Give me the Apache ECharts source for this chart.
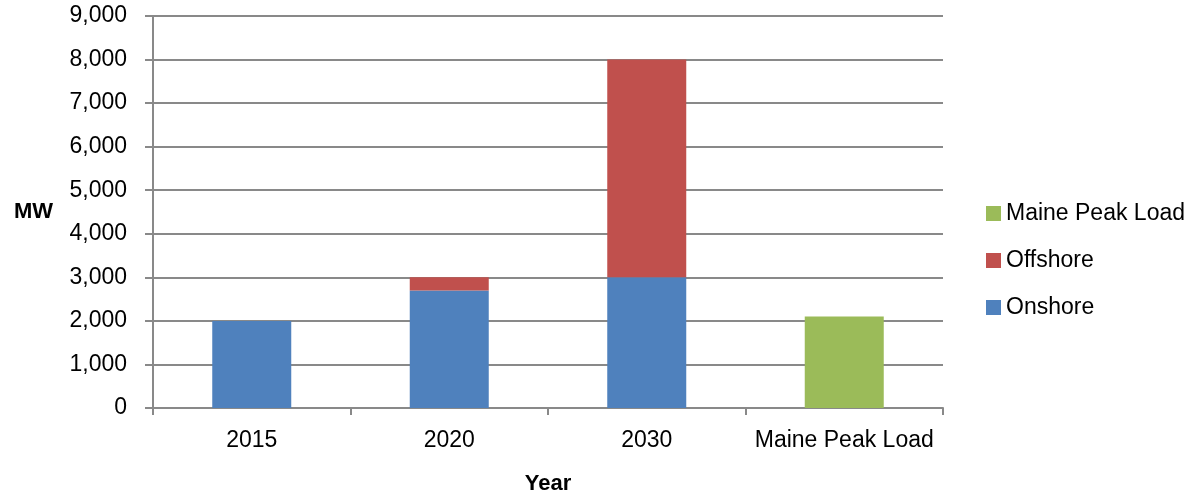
<!DOCTYPE html>
<html>
<head>
<meta charset="utf-8">
<script src="https://cdn.jsdelivr.net/npm/echarts@6/dist/echarts.min.js"></script>
<style>
  html, body { margin: 0; padding: 0; background: #fff; }
  #main { width: 1198px; height: 497px; }
</style>
</head>
<body>
<div id="main"></div>
<script>
// data
var years = ['2015', '2020', '2030', 'Maine Peak Load'];
var onshore = [2000, 2700, 3000, '-'];
var offshore = ['-', 300, 5000, '-'];
var peakLoad = ['-', '-', '-', 2100];
var yTicks = { min: 0, max: 9000, interval: 1000 };

var gray = '#898989';
var font = 'Liberation Sans';

var myChart = echarts.init(document.getElementById('main'));
myChart.setOption({
    animation: false,
    grid: { left: 153, right: 255, top: 16, bottom: 89, containLabel: false, outerBoundsMode: 'none' },
    legend: {
        orient: 'vertical',
        left: 986,
        top: 202,
        padding: 0,
        itemWidth: 15,
        itemHeight: 15,
        itemGap: 24,
        icon: 'rect',
        textStyle: { fontFamily: font, fontSize: 23, color: '#000' },
        data: ['Maine Peak Load', 'Offshore', 'Onshore']
    },
    xAxis: {
        type: 'category',
        data: years,
        name: 'Year',
        nameLocation: 'middle',
        nameGap: 65,
        nameTextStyle: { fontFamily: font, fontSize: 22, fontWeight: 'bold', color: '#000' },
        axisLine: { lineStyle: { color: gray, width: 2 } },
        axisTick: { show: true, interval: 0, length: 7, lineStyle: { color: gray, width: 2 } },
        axisLabel: { interval: 0, fontFamily: font, fontSize: 23, color: '#000', margin: 21 }
    },
    yAxis: {
        type: 'value',
        min: yTicks.min,
        max: yTicks.max,
        interval: yTicks.interval,
        name: 'MW',
        nameLocation: 'middle',
        nameRotate: 0,
        nameGap: 100,
        nameTextStyle: { fontFamily: font, fontSize: 22, fontWeight: 'bold', color: '#000', align: 'right' },
        axisLine: { show: true, lineStyle: { color: gray, width: 2 } },
        axisTick: { show: true, length: 8, lineStyle: { color: gray, width: 2 } },
        splitLine: { lineStyle: { color: gray, width: 2 } },
        axisLabel: {
            fontFamily: font, fontSize: 23, color: '#000', margin: 26,
            formatter: function (v) { return v.toLocaleString('en-US'); }
        }
    },
    series: [
        { name: 'Onshore', type: 'bar', stack: 'total', barWidth: '40%', data: onshore, itemStyle: { color: '#4F81BD' } },
        { name: 'Offshore', type: 'bar', stack: 'total', data: offshore, itemStyle: { color: '#C0504D' } },
        { name: 'Maine Peak Load', type: 'bar', stack: 'total', data: peakLoad, itemStyle: { color: '#9BBB59' } }
    ]
});
</script>
</body>
</html>
